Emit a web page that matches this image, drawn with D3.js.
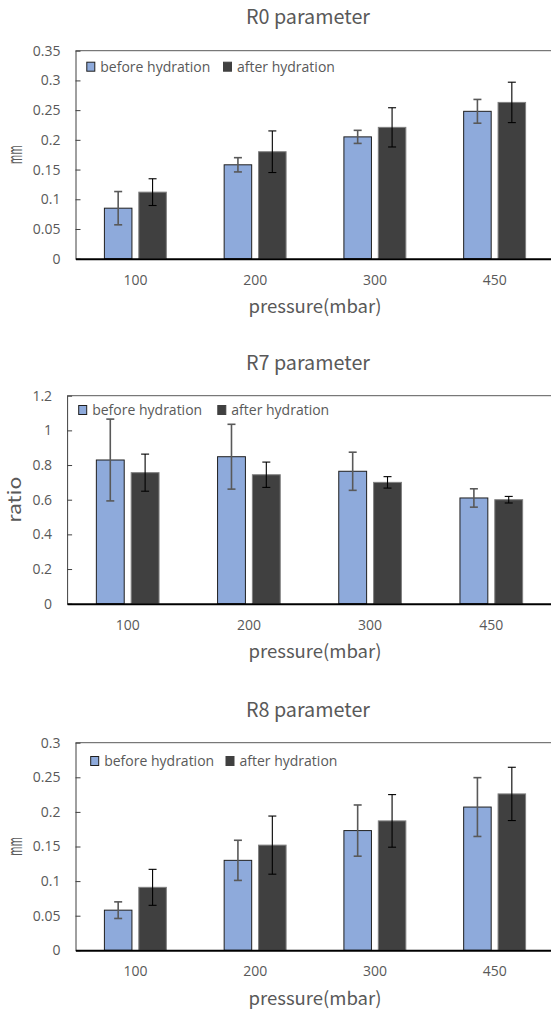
<!DOCTYPE html>
<html>
<head>
<meta charset="utf-8">
<script src="https://cdn.jsdelivr.net/npm/d3@7"></script>
<style>
  body { margin: 0; background: #fff; }
  text { fill: #595959; }
  .tick text { font-family: 'Open Sans', 'Noto Sans', sans-serif; font-size: 14px; fill: #595959; }
  .legend text { font-family: 'Open Sans', 'Noto Sans', sans-serif; font-size: 14px; }
  .title, .axis-label { font-family: 'Noto Sans CJK KR', sans-serif; }
</style>
</head>
<body>
<svg id="chart"></svg>
<script>
const categories = ['100', '200', '300', '450'];
const series = ['before hydration', 'after hydration'];

const r0Before = [0.085, 0.158, 0.205, 0.248];
const r0BeforeErr = [0.028, 0.012, 0.011, 0.020];
const r0After = [0.112, 0.180, 0.221, 0.263];
const r0AfterErr = [0.0225, 0.035, 0.033, 0.034];

const r7Before = [0.829, 0.848, 0.764, 0.610];
const r7BeforeErr = [0.236, 0.187, 0.110, 0.053];
const r7After = [0.756, 0.744, 0.700, 0.600];
const r7AfterErr = [0.107, 0.073, 0.033, 0.019];

const r8Before = [0.058, 0.130, 0.173, 0.207];
const r8BeforeErr = [0.012, 0.029, 0.037, 0.0425];
const r8After = [0.091, 0.152, 0.187, 0.226];
const r8AfterErr = [0.026, 0.042, 0.038, 0.0385];

const panels = [
  { title: 'R0 parameter', yLabel: 'mm', yMax: 0.35, ticks: 7,
    values: [r0Before, r0After], errs: [r0BeforeErr, r0AfterErr],
    box: { left: 75.5, right: 554.5, top: 50.7, bottom: 258.7 },
    titleY: 17, yLabelLen: 19, yLabelSize: 20, legendX: 86.8, legendY: 66.7, legend2X: 223.5 },
  { title: 'R7 parameter', yLabel: 'ratio', yMax: 1.2, ticks: 6,
    values: [r7Before, r7After], errs: [r7BeforeErr, r7AfterErr],
    box: { left: 67.1, right: 551.9, top: 395.7, bottom: 603.7 },
    titleY: 363, yLabelLen: 46, yLabelSize: 17, legendX: 78.7, legendY: 410, legend2X: 217.8 },
  { title: 'R8 parameter', yLabel: 'mm', yMax: 0.3, ticks: 6,
    values: [r8Before, r8After], errs: [r8BeforeErr, r8AfterErr],
    box: { left: 75.5, right: 554.5, top: 742.7, bottom: 950.3 },
    titleY: 710, yLabelLen: 19, yLabelSize: 20, legendX: 90.7, legendY: 761, legend2X: 226 }
];

const fills = ['#8EAADB', '#404040'];
const strokes = ['#1f1f1f', '#808080'];
const errColors = ['#595959', '#000'];
const errWidths = [1.6, 1.1];

const svg = d3.select('#chart').attr('width', 551).attr('height', 1013);
const fmt = d => String(+d.toFixed(2));

const drawPanel = (p) => {
  const { left, right, top, bottom } = p.box;
  const g = svg.append('g');

  const x = d3.scaleBand().domain(categories).range([left, right]);
  const x1 = d3.scaleBand().domain(series).range([0, x.bandwidth()])
    .paddingInner(0.2).paddingOuter(0.84);
  const y = d3.scaleLinear().domain([0, p.yMax]).range([bottom, top]);

  // frame top line
  g.append('line')
    .attr('x1', left).attr('x2', right).attr('y1', top).attr('y2', top)
    .attr('stroke', '#595959').attr('stroke-width', 1);

  const yAxis = d3.axisLeft(y).ticks(p.ticks).tickFormat(fmt)
    .tickSizeInner(-5).tickSizeOuter(0).tickPadding(15);
  const ya = g.append('g').attr('transform', `translate(${left},0)`).call(yAxis);
  ya.select('.domain').attr('stroke', '#404040');
  ya.selectAll('.tick line').attr('stroke', '#404040');

  const data = categories.map((c, i) => series.map((s, j) => ({
    cat: c, s, j, v: p.values[j][i], e: p.errs[j][i]
  })));

  const groups = g.selectAll('g.cat').data(data).enter().append('g')
    .attr('class', 'cat')
    .attr('transform', d => `translate(${x(d[0].cat)},0)`);

  groups.selectAll('rect').data(d => d).enter().append('rect')
    .attr('x', d => x1(d.s))
    .attr('y', d => y(d.v))
    .attr('width', x1.bandwidth())
    .attr('height', d => y(0) - y(d.v))
    .attr('fill', d => fills[d.j])
    .attr('stroke', d => strokes[d.j])
    .attr('stroke-width', 1);

  const errs = groups.selectAll('g.err').data(d => d).enter().append('g')
    .attr('class', 'err')
    .attr('stroke', d => errColors[d.j])
    .attr('stroke-width', d => errWidths[d.j]);
  const cx = d => x1(d.s) + x1.bandwidth() / 2;
  errs.append('line')
    .attr('x1', cx).attr('x2', cx)
    .attr('y1', d => y(d.v + d.e)).attr('y2', d => y(d.v - d.e));
  [1, -1].forEach(sign => {
    errs.append('line')
      .attr('x1', d => cx(d) - 4).attr('x2', d => cx(d) + 4)
      .attr('y1', d => y(d.v + sign * d.e)).attr('y2', d => y(d.v + sign * d.e));
  });

  const xAxis = d3.axisBottom(x).tickSize(0).tickPadding(16);
  const xa = g.append('g').attr('transform', `translate(0,${bottom})`).call(xAxis);
  xa.select('.domain').attr('stroke', '#000').attr('stroke-width', 2);

  // title
  g.append('text').attr('class', 'title')
    .attr('x', 308).attr('y', p.titleY).attr('dy', '0.35em')
    .attr('text-anchor', 'middle')
    .attr('font-size', 20)
    .attr('textLength', 124).attr('lengthAdjust', 'spacingAndGlyphs')
    .text(p.title);

  // x axis title
  g.append('text').attr('class', 'axis-label')
    .attr('x', 315).attr('y', bottom + 48).attr('dy', '0.35em')
    .attr('text-anchor', 'middle')
    .attr('font-size', 18)
    .attr('textLength', 133).attr('lengthAdjust', 'spacingAndGlyphs')
    .text('pressure(mbar)');

  // y axis title
  g.append('text').attr('class', 'axis-label')
    .attr('transform', `translate(15,${(top + bottom) / 2}) rotate(-90)`)
    .attr('dy', '0.35em')
    .attr('text-anchor', 'middle')
    .attr('font-size', p.yLabelSize)
    .attr('textLength', p.yLabelLen).attr('lengthAdjust', 'spacingAndGlyphs')
    .text(p.yLabel);

  // legend
  const lg = g.append('g').attr('class', 'legend');
  [p.legendX, p.legend2X].forEach((lx, j) => {
    lg.append('rect')
      .attr('x', lx).attr('y', p.legendY - 4.5)
      .attr('width', 8).attr('height', 9)
      .attr('fill', fills[j])
      .attr('stroke', j === 0 ? '#1f1f1f' : fills[j]);
    lg.append('text')
      .attr('x', lx + 13.5).attr('y', p.legendY).attr('dy', '0.35em')
      .text(series[j]);
  });
};

panels.forEach(drawPanel);
</script>
</body>
</html>
